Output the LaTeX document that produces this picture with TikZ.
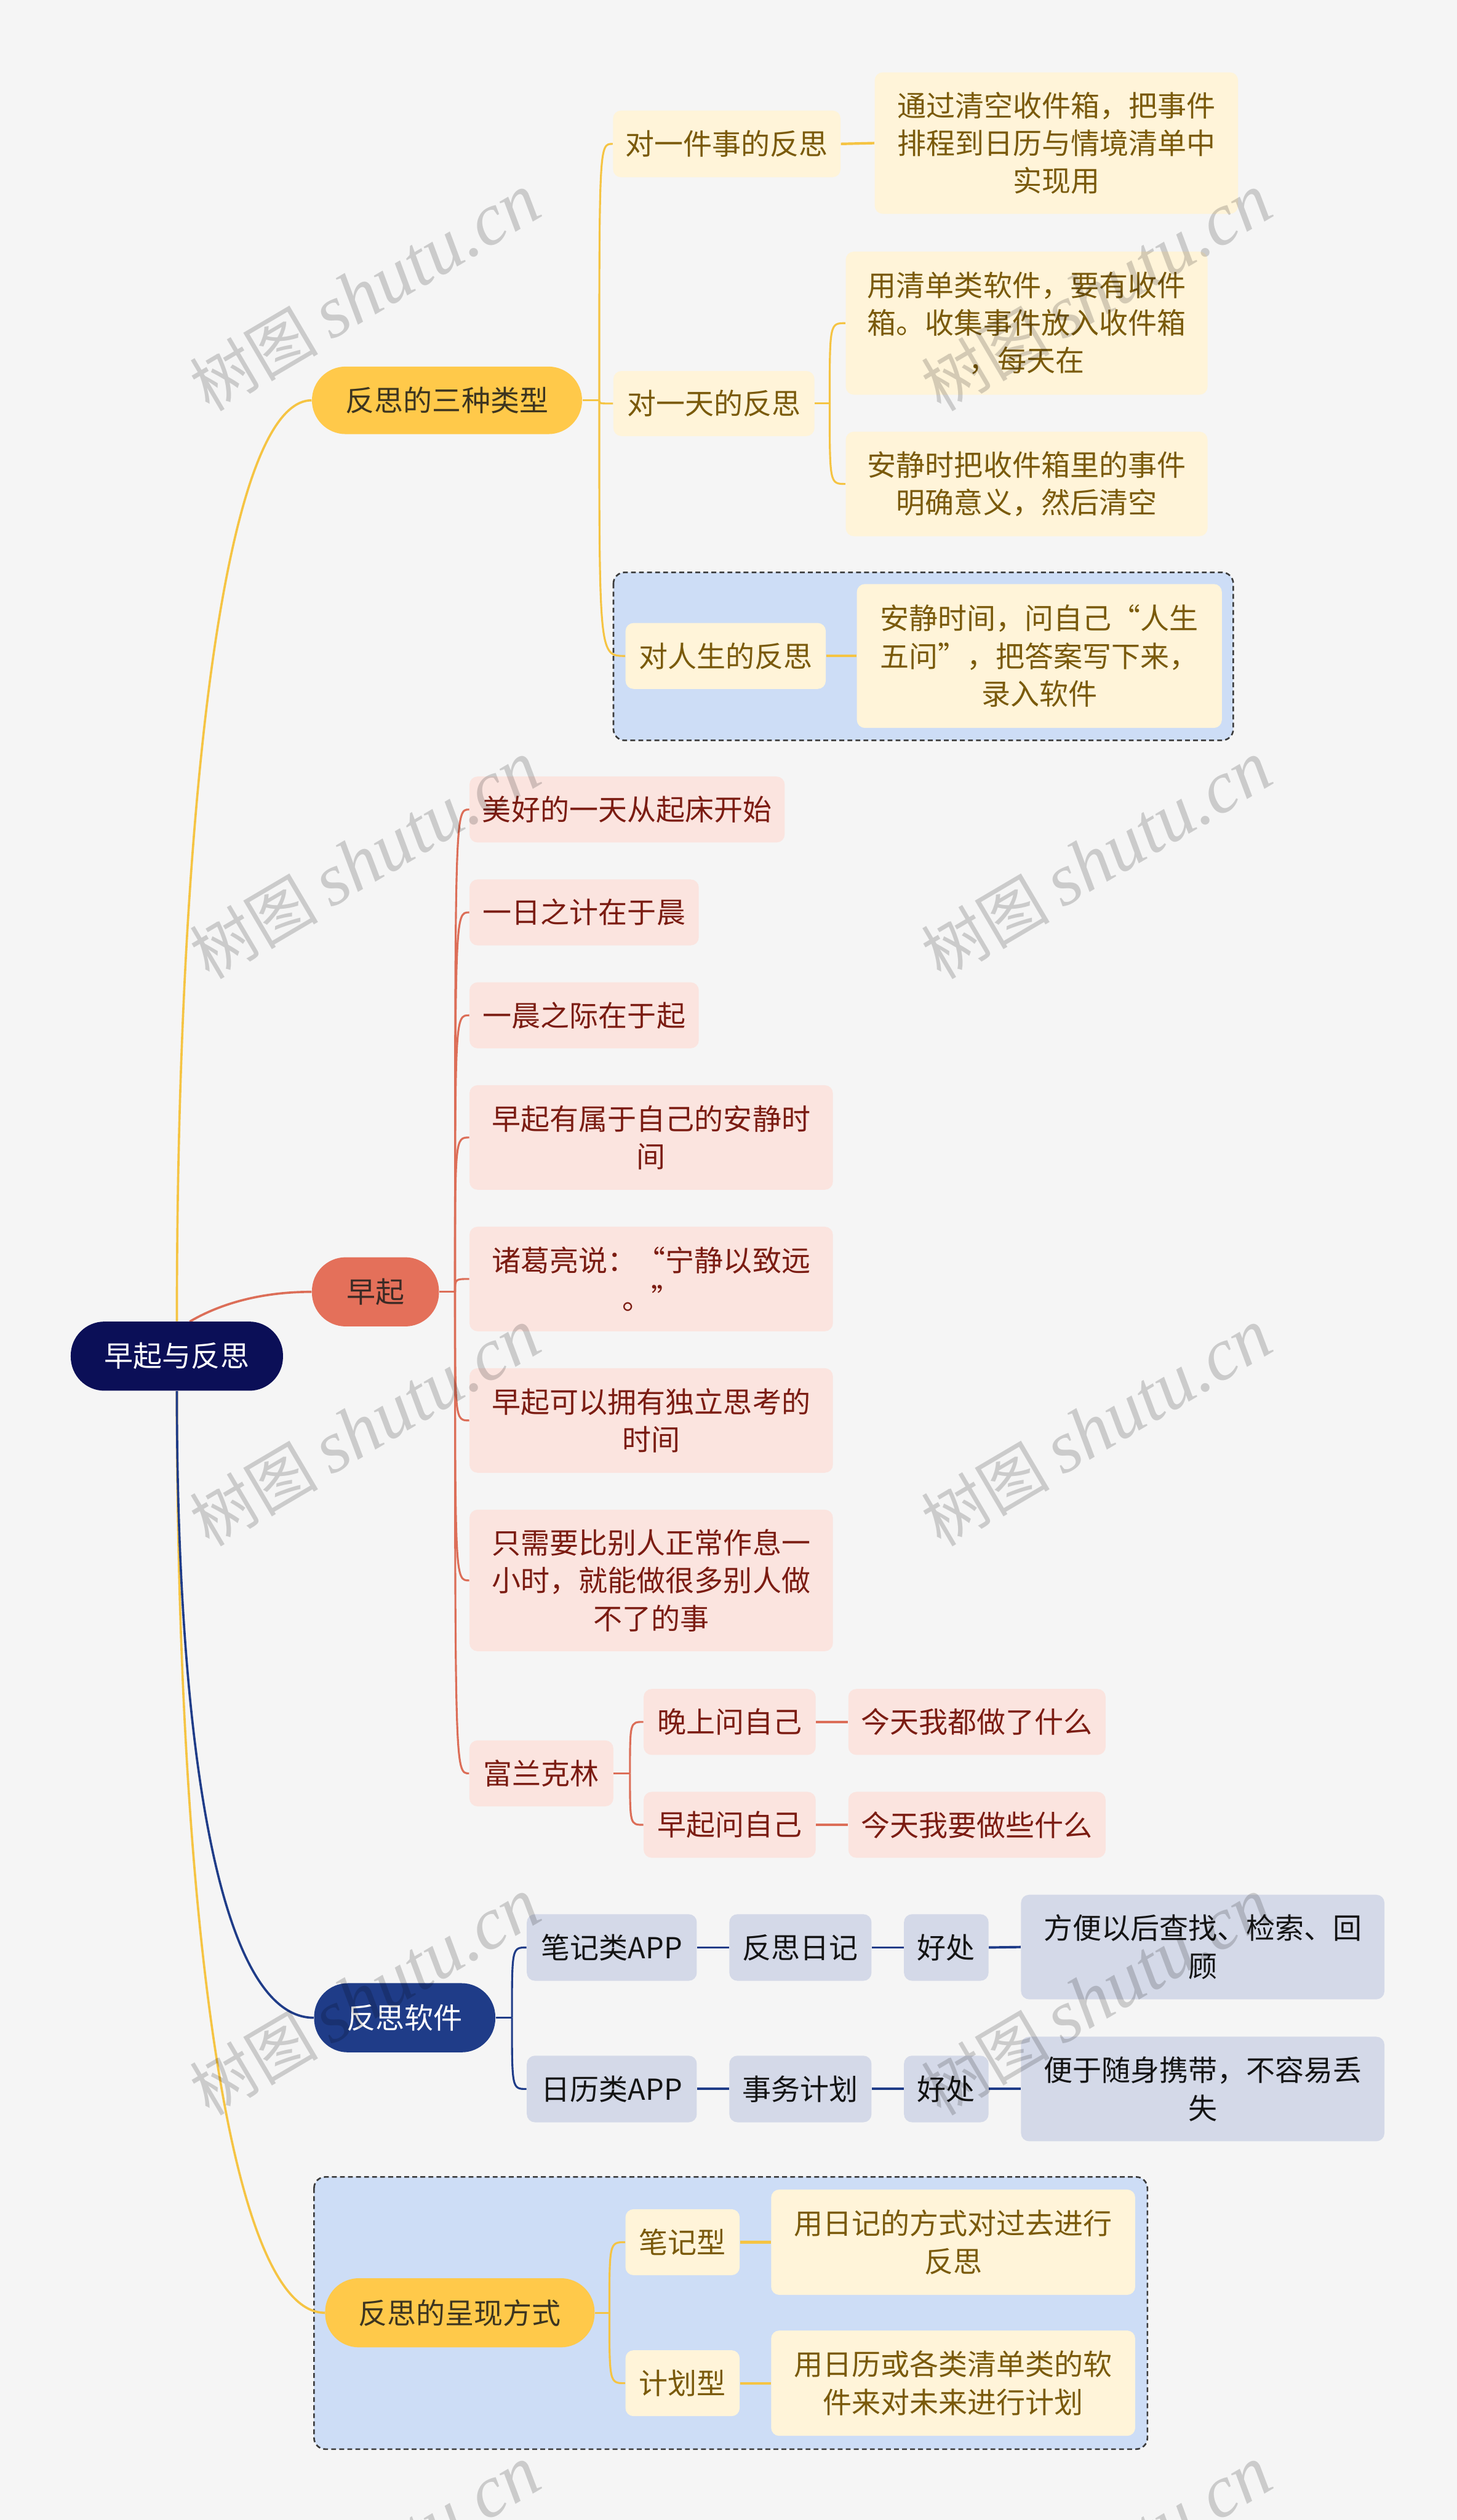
\documentclass[tikz,border=0pt]{standalone}
\usepackage{fontspec}
\setmainfont{Noto Sans CJK SC}
\newfontfamily\wmlatin{Liberation Serif}
\usetikzlibrary{calc}
\definecolor{bgc}{HTML}{F5F5F5}
\definecolor{rootc}{HTML}{0B0F57}
\definecolor{ymain}{HTML}{FFC94A}
\definecolor{yline}{HTML}{F5C443}
\definecolor{yfill}{HTML}{FFF4D9}
\definecolor{ytext}{HTML}{7A5A0B}
\definecolor{ymtext}{HTML}{3D3520}
\definecolor{zmain}{HTML}{E4705A}
\definecolor{zline}{HTML}{DC6E58}
\definecolor{zfill}{HTML}{FBE4DF}
\definecolor{ztext}{HTML}{7B1C12}
\definecolor{zmtext}{HTML}{3B2A25}
\definecolor{smain}{HTML}{1F3C88}
\definecolor{sfill}{HTML}{D4D9E8}
\definecolor{stext}{HTML}{141414}
\definecolor{boxfill}{HTML}{CDDDF6}
\definecolor{boxline}{HTML}{3A3A3A}
\newcommand\mmfont{\fontsize{18}{23.5}\selectfont}
\pgfdeclarelayer{bg}
\pgfdeclarelayer{lines}
\pgfsetlayers{bg,lines,main}
\tikzset{
  basebox/.style={rounded corners=5pt, inner sep=0pt, align=center, font=\mmfont},
  rootbox/.style={basebox, fill=rootc, text=white, rounded corners=21pt},
  ymainbox/.style={basebox, fill=ymain, text=ymtext, rounded corners=21pt},
  zmainbox/.style={basebox, fill=zmain, text=zmtext, rounded corners=21pt},
  smainbox/.style={basebox, fill=smain, text=white, rounded corners=21pt},
  ybox/.style={basebox, fill=yfill, text=ytext},
  zbox/.style={basebox, fill=zfill, text=ztext},
  sbox/.style={basebox, fill=sfill, text=stext},
  dashbox/.style={draw=boxline, fill=boxfill, line width=1pt, dash pattern=on 3pt off 2pt, rounded corners=7pt},
  lny/.style={draw=yline, line width=1.2pt},
  lnz/.style={draw=zline, line width=1.2pt},
  lns/.style={draw=smain, line width=1.2pt},
  mainln/.style={line width=1.4pt},
  wmark/.style={text=black, opacity=0.17, rotate=30.5, inner sep=0pt},
}
\begin{document}
\begin{tikzpicture}[x=1pt,y=-1pt]
\begin{pgfonlayer}{bg}
\fill[bgc] (0,0) rectangle (906,1567.4);
\path[dashbox] (381.5,356) rectangle (767,460.5);
\path[dashbox] (195.3,1354) rectangle (713.6,1523.3);
\end{pgfonlayer}
\useasboundingbox (0,0) rectangle (906,1567.4);

% root
\node[rootbox, minimum width=132pt, minimum height=43pt] (root) at (110,843.5) {早起与反思};

% branch 1
\node[ymainbox, minimum width=168pt, minimum height=42pt] (b1) at (278,249) {反思的三种类型};
\node[ybox, minimum width=141.5pt, minimum height=41.5pt] (a1) at (452,89.5) {对一件事的反思};
\node[ybox, minimum width=226pt, minimum height=88pt] (a1c) at (657,89) {通过清空收件箱，把事件\\排程到日历与情境清单中\\实现用};
\node[ybox, minimum width=125pt, minimum height=40.5pt] (a2) at (444,251) {对一天的反思};
\node[ybox, minimum width=225pt, minimum height=89pt] (a2c1) at (638.5,201) {用清单类软件，要有收件\\箱。收集事件放入收件箱\\，每天在};
\node[ybox, minimum width=225pt, minimum height=65pt] (a2c2) at (638.5,301) {安静时把收件箱里的事件\\明确意义，然后清空};
\node[ybox, minimum width=124.5pt, minimum height=41pt] (a3) at (451.3,408) {对人生的反思};
\node[ybox, minimum width=227pt, minimum height=89.5pt] (a3c) at (646.4,408) {安静时间，问自己“人生\\五问”，把答案写下来，\\录入软件};

% branch 2
\node[zmainbox, minimum width=79pt, minimum height=43pt] (z) at (233.5,803.5) {早起};
\node[zbox, minimum width=196pt, minimum height=41pt] (c1) at (390,503.5) {美好的一天从起床开始};
\node[zbox, minimum width=142.6pt, minimum height=41pt] (c2) at (363.3,567.5) {一日之计在于晨};
\node[zbox, minimum width=142.6pt, minimum height=41pt] (c3) at (363.3,631.5) {一晨之际在于起};
\node[zbox, minimum width=226pt, minimum height=65pt] (c4) at (405,707.5) {早起有属于自己的安静时\\间};
\node[zbox, minimum width=226pt, minimum height=65pt] (c5) at (405,795.5) {诸葛亮说：“宁静以致远\\。”};
\node[zbox, minimum width=226pt, minimum height=65pt] (c6) at (405,883.5) {早起可以拥有独立思考的\\时间};
\node[zbox, minimum width=226pt, minimum height=88pt] (c7) at (405,983) {只需要比别人正常作息一\\小时，就能做很多别人做\\不了的事};
\node[zbox, minimum width=89.5pt, minimum height=41pt] (c8) at (336.7,1103) {富兰克林};
\node[zbox, minimum width=107pt, minimum height=41pt] (d1) at (453.8,1071) {晚上问自己};
\node[zbox, minimum width=160pt, minimum height=41pt] (d1c) at (607.6,1071) {今天我都做了什么};
\node[zbox, minimum width=107pt, minimum height=41pt] (d2) at (453.8,1135) {早起问自己};
\node[zbox, minimum width=160pt, minimum height=41pt] (d2c) at (607.6,1135) {今天我要做些什么};

% branch 3
\node[smainbox, minimum width=112.7pt, minimum height=43pt] (s) at (251.7,1255) {反思软件};
\node[sbox, minimum width=105.7pt, minimum height=41.4pt] (e1) at (380.5,1211.3) {笔记类APP};
\node[sbox, minimum width=88.4pt, minimum height=41.4pt] (e1a) at (497.8,1211.3) {反思日记};
\node[sbox, minimum width=52.6pt, minimum height=41.4pt] (e1b) at (588.5,1211.3) {好处};
\node[sbox, minimum width=226pt, minimum height=65pt] (e1c) at (748,1211) {方便以后查找、检索、回\\顾};
\node[sbox, minimum width=105.7pt, minimum height=41.4pt] (e2) at (380.5,1299.3) {日历类APP};
\node[sbox, minimum width=88.4pt, minimum height=41.4pt] (e2a) at (497.8,1299.3) {事务计划};
\node[sbox, minimum width=52.6pt, minimum height=41.4pt] (e2b) at (588.5,1299.3) {好处};
\node[sbox, minimum width=226pt, minimum height=65pt] (e2c) at (748,1299.3) {便于随身携带，不容易丢\\失};

% branch 4
\node[ymainbox, minimum width=167.6pt, minimum height=43pt] (f) at (286,1438.5) {反思的呈现方式};
\node[ybox, minimum width=71pt, minimum height=41pt] (f1) at (424.5,1394.6) {笔记型};
\node[ybox, minimum width=226.4pt, minimum height=65.5pt] (f1c) at (592.8,1394.6) {用日记的方式对过去进行\\反思};
\node[ybox, minimum width=71pt, minimum height=41pt] (f2) at (424.5,1482.3) {计划型};
\node[ybox, minimum width=226.4pt, minimum height=65.5pt] (f2c) at (592.8,1482.3) {用日历或各类清单类的软\\件来对未来进行计划};

% spine coordinates
\coordinate (rz) at (118,822);
\coordinate (b1s) at (372.7,249);
\coordinate (a2s) at (516,251);
\coordinate (zs) at (283,803.5);
\coordinate (c8s) at (391.8,1103);
\coordinate (ss) at (318.4,1255);
\coordinate (fs) at (379,1438.5);

\begin{pgfonlayer}{lines}
% main branches
\draw[lny, mainln] (root.north) .. controls (110,500) and (140,249) .. (b1.west);
\draw[lny, mainln] (root.south) .. controls (110,1187) and (142,1438.5) .. (f.west);
\draw[lns, mainln] (root.south) .. controls (110,1080) and (135,1255) .. (s.west);
\draw[lnz, mainln] (rz) .. controls (135,812) and (160,803.5) .. (z.west);
% branch 1
\draw[lny] (b1.east) -- (b1s);
\foreach \c in {a1,a2,a3} \draw[lny] (b1s) .. controls (b1s |- \c.west) .. (\c.west);
\draw[lny, line width=1.6pt] (a1.east) -- (a1c.west);
\draw[lny] (a2.east) -- (a2s);
\foreach \c in {a2c1,a2c2} \draw[lny] (a2s) .. controls (a2s |- \c.west) .. (\c.west);
\draw[lny, line width=1.6pt] (a3.east) -- (a3c.west);
% branch 2
\draw[lnz] (z.east) -- (zs);
\foreach \c in {c1,c2,c3,c4,c5,c6,c7,c8} \draw[lnz] (zs) .. controls (zs |- \c.west) .. (\c.west);
\draw[lnz] (c8.east) -- (c8s);
\foreach \c in {d1,d2} \draw[lnz] (c8s) .. controls (c8s |- \c.west) .. (\c.west);
\draw[lnz, line width=1.5pt] (d1.east) -- (d1c.west);
\draw[lnz, line width=1.5pt] (d2.east) -- (d2c.west);
% branch 3
\draw[lns] (s.east) -- (ss);
\foreach \c in {e1,e2} \draw[lns] (ss) .. controls (ss |- \c.west) .. (\c.west);
\draw[lns, line width=1.5pt] (e1.east) -- (e1a.west);
\draw[lns, line width=1.5pt] (e1a.east) -- (e1b.west);
\draw[lns, line width=1.5pt] (e1b.east) -- (e1c.west);
\draw[lns, line width=1.5pt] (e2.east) -- (e2a.west);
\draw[lns, line width=1.5pt] (e2a.east) -- (e2b.west);
\draw[lns, line width=1.5pt] (e2b.east) -- (e2c.west);
% branch 4
\draw[lny] (f.east) -- (fs);
\foreach \c in {f1,f2} \draw[lny] (fs) .. controls (fs |- \c.west) .. (\c.west);
\draw[lny, line width=1.6pt] (f1.east) -- (f1c.west);
\draw[lny, line width=1.6pt] (f2.east) -- (f2c.west);
\end{pgfonlayer}

% watermarks
\foreach \wx/\wy [count=\i] in {227/182,682/182,227/535,682/535,227/888,682/888,227/1242,682/1242,227/1595,682/1595}
  \node[wmark] (w\i) at (\wx,\wy) {\fontsize{40}{40}\selectfont 树图\hspace{8pt}{\fontsize{46}{46}\selectfont\wmlatin\itshape shutu.cn}};
\end{tikzpicture}
\end{document}
